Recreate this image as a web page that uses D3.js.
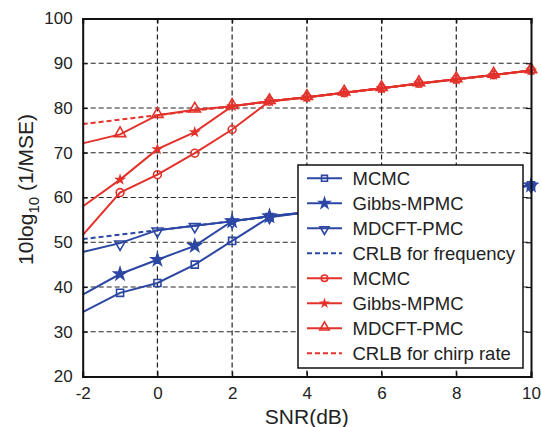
<!DOCTYPE html>
<html>
<head>
<meta charset="utf-8">
<script src="https://cdn.jsdelivr.net/npm/d3@7"></script>
<style>
  html, body { margin: 0; padding: 0; background: #fff; }
  svg { display: block; font-family: "Liberation Sans", Arial, Helvetica, sans-serif; }
</style>
</head>
<body>
<svg id="chart" width="541" height="427"></svg>
<script>
// ---- data ----
const snr = [-2, -1, 0, 1, 2, 3, 4, 5, 6, 7, 8, 9, 10];
const xTicks = [-2, 0, 2, 4, 6, 8, 10];
const yTicks = [20, 30, 40, 50, 60, 70, 80, 90, 100];

const freqMCMC  = [34.4, 38.7, 40.9, 45.0, 50.3, 55.6, 56.7, 57.7, 58.7, 59.7, 60.7, 61.7, 62.7];
const freqGibbs = [38.3, 42.9, 46.1, 49.2, 54.7, 55.8, 56.7, 57.7, 58.7, 59.7, 60.7, 61.7, 62.7];
const freqMDCFT = [47.8, 49.8, 52.7, 53.7, 54.7, 55.8, 56.7, 57.7, 58.7, 59.7, 60.7, 61.7, 62.7];
const crlbFreq  = [50.7, 51.7, 52.7, 53.7, 54.7, 55.7, 56.7, 57.7, 58.7, 59.7, 60.7, 61.7, 62.7];

const chirpMCMC  = [51.6, 61.1, 65.1, 69.9, 75.2, 81.5, 82.4, 83.4, 84.4, 85.5, 86.4, 87.4, 88.4];
const chirpGibbs = [58.0, 64.0, 70.8, 74.6, 80.4, 81.5, 82.4, 83.4, 84.4, 85.5, 86.4, 87.4, 88.4];
const chirpMDCFT = [72.1, 74.1, 78.4, 79.6, 80.4, 81.5, 82.4, 83.4, 84.4, 85.5, 86.4, 87.4, 88.4];
const crlbChirp  = [76.4, 77.4, 78.4, 79.4, 80.4, 81.4, 82.4, 83.4, 84.4, 85.4, 86.4, 87.4, 88.4];

const seriesNames = ["MCMC", "Gibbs-MPMC", "MDCFT-PMC", "CRLB for frequency",
                     "MCMC", "Gibbs-MPMC", "MDCFT-PMC", "CRLB for chirp rate"];

// ---- styles ----
const BLUE = "#2c47a3";
const RED = "#e2322b";
const series = [
  { name: seriesNames[0], values: freqMCMC,  color: BLUE, marker: "square" },
  { name: seriesNames[1], values: freqGibbs, color: BLUE, marker: "star" },
  { name: seriesNames[2], values: freqMDCFT, color: BLUE, marker: "tridown" },
  { name: seriesNames[3], values: crlbFreq,  color: BLUE, marker: null, dashed: true },
  { name: seriesNames[4], values: chirpMCMC,  color: RED, marker: "circle" },
  { name: seriesNames[5], values: chirpGibbs, color: RED, marker: "smallstar" },
  { name: seriesNames[6], values: chirpMDCFT, color: RED, marker: "triup" },
  { name: seriesNames[7], values: crlbChirp,  color: RED, marker: null, dashed: true }
];

const svg = d3.select("#chart");
const L = 82.7, R = 531, T = 18.5, B = 376.5;
const x = d3.scaleLinear().domain([-2, 10]).range([L, R]);
const y = d3.scaleLinear().domain([20, 100]).range([B, T]);

// grid
const grid = svg.append("g");
grid.selectAll("line.vx").data(xTicks.slice(1, -1)).join("line")
  .attr("x1", d => x(d)).attr("x2", d => x(d)).attr("y1", T).attr("y2", B)
  .attr("stroke", "#222").attr("stroke-width", 1.2).attr("stroke-dasharray", "5,3");
grid.selectAll("line.hy").data(yTicks.slice(1, -1)).join("line")
  .attr("x1", L).attr("x2", R).attr("y1", d => y(d)).attr("y2", d => y(d))
  .attr("stroke", "#222").attr("stroke-width", 1.2).attr("stroke-dasharray", "5,3");

// markers
const symType = { square: d3.symbolSquare, star: d3.symbolStar, smallstar: d3.symbolStar,
  circle: d3.symbolCircle, triup: d3.symbolTriangle, tridown: d3.symbolTriangle };
const symSize = { square: 50, star: 45, smallstar: 16, circle: 48, triup: 55, tridown: 50 };
function drawMarker(g, type, color, cx, cy, scale) {
  const filled = (type === "star" || type === "smallstar");
  let tr = `translate(${cx},${cy})`;
  if (type === "triup") tr = `translate(${cx},${cy - 1})`;
  if (type === "tridown") tr = `translate(${cx},${cy + 1}) rotate(180)`;
  g.append("path").attr("d", d3.symbol().type(symType[type]).size(symSize[type] * scale)())
    .attr("transform", tr)
    .attr("fill", filled ? color : "none").attr("stroke", color).attr("stroke-width", 1.6);
}

const line = d3.line().x((d, i) => x(snr[i])).y(d => y(d));
const plot = svg.append("g");
const order = [3, 7, 0, 1, 2, 4, 5, 6];
order.forEach(k => {
  const s = series[k];
  plot.append("path").attr("d", line(s.values)).attr("fill", "none")
    .attr("stroke", s.color).attr("stroke-width", 2)
    .attr("stroke-dasharray", s.dashed ? "5,3" : null);
});
order.forEach(k => {
  const s = series[k];
  if (!s.marker) return;
  s.values.forEach((v, i) => {
    if (snr[i] < -1) return;
    drawMarker(plot, s.marker, s.color, x(snr[i]), y(v), 1);
  });
});

// axes (inward ticks, boxed)
const fmt = d => String(d);
const axB = svg.append("g").attr("transform", `translate(0,${B})`)
  .call(d3.axisBottom(x).tickValues(xTicks).tickSize(-5).tickPadding(10).tickFormat(fmt));
const axL = svg.append("g").attr("transform", `translate(${L},0)`)
  .call(d3.axisLeft(y).tickValues(yTicks).tickSize(-5).tickPadding(10).tickFormat(fmt));
const axT = svg.append("g").attr("transform", `translate(0,${T})`)
  .call(d3.axisTop(x).tickValues(xTicks).tickSize(-5).tickFormat(""));
const axR = svg.append("g").attr("transform", `translate(${R},0)`)
  .call(d3.axisRight(y).tickValues(yTicks).tickSize(-5).tickFormat(""));
[axB, axL, axT, axR].forEach(a => {
  a.select(".domain").attr("stroke", "#111").attr("stroke-width", 2);
  a.selectAll(".tick line").attr("stroke", "#111").attr("stroke-width", 1.2);
  a.selectAll("text").attr("font-size", 17).attr("fill", "#222")
    .attr("font-family", "Liberation Sans, Arial, Helvetica, sans-serif");
});

// axis labels
svg.append("text").attr("x", (L + R) / 2).attr("y", 424).attr("text-anchor", "middle")
  .attr("font-size", 21).attr("fill", "#222").text("SNR(dB)");
const yl = svg.append("text").attr("transform", `translate(33,${(T + B) / 2 - 8}) rotate(-90)`)
  .attr("text-anchor", "middle").attr("font-size", 21).attr("fill", "#222");
yl.append("tspan").text("10log");
yl.append("tspan").attr("font-size", 15).attr("dy", 6).text("10");
yl.append("tspan").attr("dy", -6).text(" (1/MSE)");

// legend
const lg = svg.append("g");
lg.append("rect").attr("x", 298).attr("y", 165).attr("width", 225).attr("height", 203)
  .attr("fill", "#fff").attr("stroke", "#111").attr("stroke-width", 1.5);
series.forEach((s, i) => {
  const cy = 178.3 + 25 * i;
  lg.append("line").attr("x1", 307).attr("x2", 342).attr("y1", cy).attr("y2", cy)
    .attr("stroke", s.color).attr("stroke-width", 2)
    .attr("stroke-dasharray", s.dashed ? "5,3" : null);
  if (s.marker) drawMarker(lg, s.marker, s.color, 324.5, cy, 0.7);
  lg.append("text").attr("x", 352.5).attr("y", cy).attr("dy", "0.36em")
    .attr("font-size", 18.5).attr("fill", "#222").text(s.name);
});
</script>
</body>
</html>
